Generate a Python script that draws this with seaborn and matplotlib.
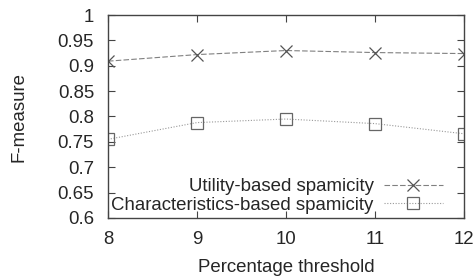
import numpy as np
import pandas as pd
import seaborn as sns
import matplotlib
matplotlib.use("Agg")
import matplotlib.pyplot as plt

thresholds = [8, 9, 10, 11, 12]
utility = [0.909, 0.922, 0.930, 0.926, 0.924]
characteristics = [0.755, 0.788, 0.795, 0.786, 0.766]
series_names = ["Utility-based spamicity", "Characteristics-based spamicity"]

sns.set_style("ticks")
plt.rcParams["font.family"] = ["Liberation Sans", "DejaVu Sans"]
fs = 13.4

fig = plt.figure(figsize=(4.76, 2.78), dpi=100)
ax = fig.add_axes([108 / 476, 1 - 218 / 278, (464 - 108) / 476, (218 - 15) / 278])

# utility-based: dashed with crosses
sns.lineplot(x=thresholds, y=utility, ax=ax, label=series_names[0],
             color="#808080", linestyle=(0, (5, 2)), linewidth=0.8,
             marker="x", markersize=9, markeredgewidth=0.9,
             markeredgecolor="#555555")
# characteristics-based: dotted with open squares
sns.lineplot(x=thresholds, y=characteristics, ax=ax, label=series_names[1],
             color="#999999", linestyle=(0, (1, 1.5)), linewidth=0.8,
             marker="s", markersize=9, markeredgewidth=0.9,
             markerfacecolor="none", markeredgecolor="#666666")

ax.set_xlim(8, 12)
ax.set_ylim(0.6, 1.0)
ax.set_xticks(thresholds)
ax.set_yticks(np.arange(0.6, 1.001, 0.05))
ax.set_yticklabels(["0.6", "0.65", "0.7", "0.75", "0.8", "0.85", "0.9", "0.95", "1"])
ax.tick_params(direction="in", top=True, right=True, labelsize=fs, length=5,
               color="#444444")
ax.tick_params(axis="y", pad=10)
ax.tick_params(axis="x", pad=9)
for s in ax.spines.values():
    s.set_color("#444444")
    s.set_linewidth(1.0)
    s.set_visible(True)

ax.set_xlabel("Percentage threshold", fontsize=fs, labelpad=8)
ax.set_ylabel("F-measure", fontsize=fs, labelpad=22)

leg = ax.legend(loc="lower right", bbox_to_anchor=(0.966, -0.025), frameon=False,
                markerfirst=False, fontsize=fs, handlelength=3.15,
                handletextpad=0.55, labelspacing=0.08, borderpad=0)
for t in leg.get_texts():
    t.set_ha("right")

fig.savefig("out.png", dpi=100)
